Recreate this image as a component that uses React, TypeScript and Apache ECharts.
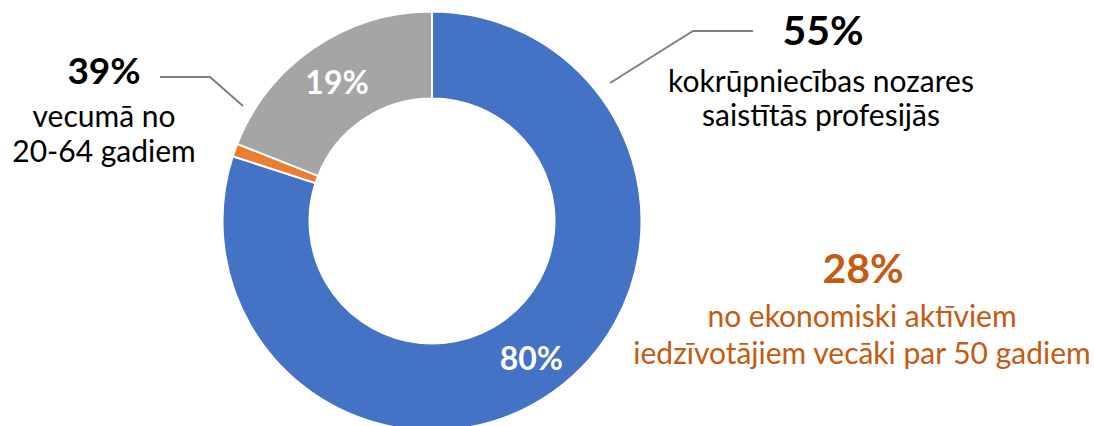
import React, { useEffect, useRef } from "react";
import * as echarts from "echarts";

const categories = ["80%", "1%", "19%"];
const values = [80, 1, 19];
const colors = ["#4472C4", "#ED7D31", "#A5A5A5"];

const noteLeftHead = "39%";
const noteLeftLines = ["vecumā no", "20-64 gadiem"];
const noteRightHead = "55%";
const noteRightLines = ["kokrūpniecības nozares", "saistītās profesijās"];
const noteBottomHead = "28%";
const noteBottomLines = ["no ekonomiski aktīviem", "iedzīvotājiem vecāki par 50 gadiem"];

const FONT = "Lato, 'Open Sans', sans-serif";
const ORANGE = "#C55A11";

export default function App() {
  const ref = useRef<HTMLDivElement>(null);
  useEffect(() => {
    document.body.style.margin = "0";
    if (!ref.current) return;
    const chart = echarts.init(ref.current, undefined, { renderer: "svg" });
    const txt = (x: number, y: number, text: string, size: number, bold: boolean, color: string) => ({
      type: "text",
      x,
      y,
      style: {
        text,
        fontSize: size,
        fontWeight: bold ? "bold" : "normal",
        fontFamily: FONT,
        fill: color,
        textAlign: "center",
        textVerticalAlign: "middle",
      },
    });
    chart.setOption({
      animation: false,
      backgroundColor: "#ffffff",
      series: [
        {
          type: "pie",
          center: [432, 221],
          radius: [122.5, 209.5],
          startAngle: 90,
          clockwise: true,
          silent: true,
          emphasis: { disabled: true },
          itemStyle: { borderColor: "#ffffff", borderWidth: 2 },
          label: {
            show: true,
            position: "inside",
            color: "#ffffff",
            fontFamily: FONT,
            fontWeight: "bold",
            fontSize: 32,
            formatter: (p: any) => (p.value >= 5 ? p.name : ""),
          },
          labelLine: { show: false },
          data: categories.map((c, i) => ({ name: c, value: values[i], itemStyle: { color: colors[i] } })),
        },
      ],
      graphic: [
        {
          type: "polyline",
          shape: { points: [[610, 83], [693, 31], [753, 31]] },
          style: { stroke: "#7F7F7F", lineWidth: 2, fill: null },
        },
        {
          type: "polyline",
          shape: { points: [[160, 77], [210, 77], [243, 106]] },
          style: { stroke: "#7F7F7F", lineWidth: 2, fill: null },
        },
        txt(823, 29, noteRightHead, 41, true, "#000000"),
        txt(821, 80, noteRightLines[0], 30, false, "#000000"),
        txt(821, 114, noteRightLines[1], 30, false, "#000000"),
        txt(104, 69, noteLeftHead, 37, true, "#000000"),
        txt(104, 115, noteLeftLines[0], 30, false, "#000000"),
        txt(104, 150, noteLeftLines[1], 30, false, "#000000"),
        txt(863, 267, noteBottomHead, 41, true, ORANGE),
        txt(862, 315, noteBottomLines[0], 30, false, ORANGE),
        txt(862, 352, noteBottomLines[1], 30, false, ORANGE),
      ],
    });
    return () => chart.dispose();
  }, []);
  return <div ref={ref} style={{ width: 1094, height: 426 }} />;
}
